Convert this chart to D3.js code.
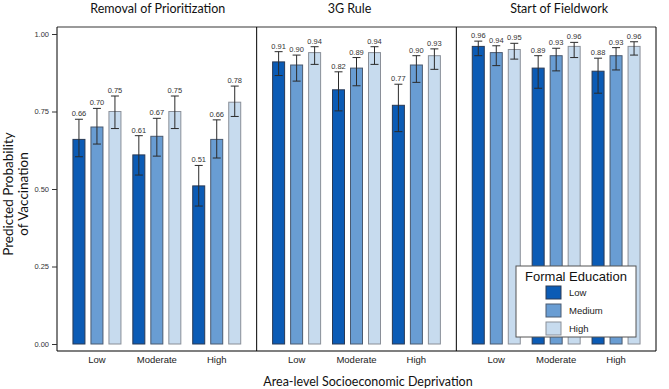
<!DOCTYPE html>
<html>
<head>
<meta charset="utf-8">
<script src="https://cdn.jsdelivr.net/npm/d3@7"></script>
<style>
  body { margin: 0; background: #fff; }
  svg { display: block; }
</style>
</head>
<body>
<svg width="669" height="389"></svg>
<script>
const svg = d3.select("svg");

const panels = ['Removal of Prioritization', '3G Rule', 'Start of Fieldwork'];
const titleShift = [1, -7, 3];
const deprivation = ['Low', 'Moderate', 'High'];
const education = ['Low', 'Medium', 'High'];
const yTicks = [0, 0.25, 0.5, 0.75, 1];

// estimate per panel, rows = deprivation, columns = education
const estimates = [
    [[0.66, 0.70, 0.75], [0.61, 0.67, 0.75], [0.51, 0.66, 0.78]],
    [[0.91, 0.90, 0.94], [0.82, 0.89, 0.94], [0.77, 0.90, 0.93]],
    [[0.96, 0.94, 0.95], [0.89, 0.93, 0.96], [0.88, 0.93, 0.96]]
];
const lower = [
    [[0.604, 0.645, 0.695], [0.545, 0.606, 0.695], [0.445, 0.600, 0.734]],
    [[0.866, 0.848, 0.902], [0.752, 0.833, 0.902], [0.685, 0.844, 0.886]],
    [[0.930, 0.898, 0.919], [0.825, 0.881, 0.924], [0.809, 0.884, 0.932]]
];
const upper = [
    [[0.725, 0.760, 0.800], [0.672, 0.728, 0.800], [0.576, 0.723, 0.832]],
    [[0.943, 0.932, 0.959], [0.878, 0.924, 0.959], [0.838, 0.930, 0.952]],
    [[0.977, 0.962, 0.970], [0.930, 0.954, 0.973], [0.922, 0.956, 0.975]]
];

const colors = ['#0b5bb5', '#699dd3', '#c7dbee'];

const margin = { top: 27, right: 13, bottom: 38, left: 57 };
const width = 669, height = 389;
const innerWidth = width - margin.left - margin.right;
const innerHeight = height - margin.top - margin.bottom;

const rows = [];
panels.forEach((p, pi) => deprivation.forEach((d, di) => education.forEach((e, ei) => {
    rows.push({ panel: p, dep: d, edu: e, ei,
        value: estimates[pi][di][ei], lo: lower[pi][di][ei], hi: upper[pi][di][ei] });
})));

const panelScale = d3.scaleBand().domain(panels).range([0, innerWidth]);
const groupScale = d3.scalePoint().domain(deprivation).range([0, panelScale.bandwidth()]).padding(0.667);
const barScale = d3.scalePoint().domain(education).range([-18, 18]);
const barW = 12;
const yScale = d3.scaleLinear().domain([0, 1]).range([innerHeight - 7, innerHeight - 7 - 310]);

const color = d3.scaleOrdinal().domain(education).range(colors);
const stroke = d3.scaleOrdinal().domain(education).range(['#2a3a55', '#4a5a70', '#8a8f98']);

const g = svg.append('g').attr('transform', `translate(${margin.left}, ${margin.top})`);

const xOf = d => panelScale(d.panel) + groupScale(d.dep) + barScale(d.edu);

// bars
g.selectAll('rect.bar').data(rows).enter().append('rect')
    .attr('class', 'bar')
    .attr('x', d => xOf(d) - barW / 2)
    .attr('y', d => yScale(d.value))
    .attr('width', barW)
    .attr('height', d => yScale(0) - yScale(d.value))
    .attr('fill', d => color(d.edu))
    .attr('stroke', d => stroke(d.edu))
    .attr('stroke-width', 1);

// error bars
const err = g.selectAll('g.err').data(rows).enter().append('g')
    .attr('class', 'err')
    .attr('stroke', '#2b2b2b')
    .attr('stroke-width', 1);
err.append('line')
    .attr('x1', d => xOf(d)).attr('x2', d => xOf(d))
    .attr('y1', d => yScale(d.lo)).attr('y2', d => yScale(d.hi));
err.append('line')
    .attr('x1', d => xOf(d) - 4).attr('x2', d => xOf(d) + 4)
    .attr('y1', d => yScale(d.hi)).attr('y2', d => yScale(d.hi));
err.append('line')
    .attr('x1', d => xOf(d) - 4).attr('x2', d => xOf(d) + 4)
    .attr('y1', d => yScale(d.lo)).attr('y2', d => yScale(d.lo));

// value labels
g.selectAll('text.val').data(rows).enter().append('text')
    .attr('class', 'val')
    .attr('x', d => xOf(d))
    .attr('y', d => yScale(d.hi) - 3)
    .attr('text-anchor', 'middle')
    .attr('font-family', 'Liberation Sans, Arial, sans-serif')
    .attr('font-size', 7.5)
    .attr('fill', '#333')
    .text(d => d3.format('.2f')(d.value));

// frame
g.append('line').attr('x1', 0).attr('x2', innerWidth).attr('y1', 0).attr('y2', 0)
    .attr('stroke', '#9a9a9a').attr('stroke-width', 2);
g.append('line').attr('x1', 0).attr('x2', innerWidth).attr('y1', innerHeight).attr('y2', innerHeight)
    .attr('stroke', '#000').attr('stroke-width', 1.2);
g.selectAll('line.sep').data(panels.concat(['end'])).enter().append('line')
    .attr('class', 'sep')
    .attr('x1', (d, i) => i < panels.length ? panelScale(d) : innerWidth)
    .attr('x2', (d, i) => i < panels.length ? panelScale(d) : innerWidth)
    .attr('y1', 0).attr('y2', innerHeight)
    .attr('stroke', '#000').attr('stroke-width', 1);

// y axis
const yAxisG = g.append('g')
    .call(d3.axisLeft(yScale).tickValues(yTicks).tickFormat(d3.format('.2f')).tickSize(5).tickPadding(3));
yAxisG.select('.domain').remove();
yAxisG.selectAll('text')
    .attr('font-family', 'Liberation Sans, Arial, sans-serif')
    .attr('font-size', 7.5)
    .attr('fill', '#333');
yAxisG.selectAll('line').attr('stroke', '#333');

// category labels
panels.forEach(p => {
    g.selectAll(null).data(deprivation).enter().append('text')
        .attr('x', d => panelScale(p) + groupScale(d))
        .attr('y', innerHeight + 12)
        .attr('text-anchor', 'middle')
        .attr('font-family', 'Liberation Sans, Arial, sans-serif')
        .attr('font-size', 9.5)
        .attr('fill', '#222')
        .text(d => d);
});

// panel titles
g.selectAll('text.title').data(panels).enter().append('text')
    .attr('class', 'title')
    .attr('x', (d, i) => panelScale(d) + panelScale.bandwidth() / 2 + titleShift[i])
    .attr('y', -14)
    .attr('text-anchor', 'middle')
    .attr('font-family', 'Lato, sans-serif')
    .attr('font-size', 12.5)
    .attr('fill', '#111')
    .text(d => d);

// axis titles
g.append('text')
    .attr('x', 311)
    .attr('y', innerHeight + 35)
    .attr('text-anchor', 'middle')
    .attr('font-family', 'Lato, sans-serif')
    .attr('font-size', 12.5)
    .attr('fill', '#111')
    .text('Area-level Socioeconomic Deprivation');

const yLab = svg.append('text')
    .attr('transform', 'translate(13, 194) rotate(-90)')
    .attr('text-anchor', 'middle')
    .attr('font-family', 'Lato, sans-serif')
    .attr('font-size', 13.5)
    .attr('fill', '#111');
yLab.append('tspan').attr('x', 0).attr('dy', 0).text('Predicted Probability');
yLab.append('tspan').attr('x', 0).attr('dy', 15).text('of Vaccination');

// legend
const legend = svg.append('g').attr('transform', 'translate(516, 266)');
legend.append('rect')
    .attr('width', 120).attr('height', 71)
    .attr('fill', '#fff').attr('stroke', '#555').attr('stroke-width', 1);
legend.append('text')
    .attr('x', 60).attr('y', 15)
    .attr('text-anchor', 'middle')
    .attr('font-family', 'Liberation Sans, Arial, sans-serif')
    .attr('font-size', 13)
    .attr('fill', '#111')
    .text('Formal Education');
legend.selectAll('rect.sw').data(education).enter().append('rect')
    .attr('class', 'sw')
    .attr('x', 30).attr('y', (d, i) => 20 + i * 18)
    .attr('width', 15).attr('height', 13)
    .attr('fill', d => color(d))
    .attr('stroke', d => stroke(d));
legend.selectAll('text.lab').data(education).enter().append('text')
    .attr('class', 'lab')
    .attr('x', 53).attr('y', (d, i) => 30 + i * 18)
    .attr('font-family', 'Liberation Sans, Arial, sans-serif')
    .attr('font-size', 9.5)
    .attr('fill', '#222')
    .text(d => d);
</script>
</body>
</html>
